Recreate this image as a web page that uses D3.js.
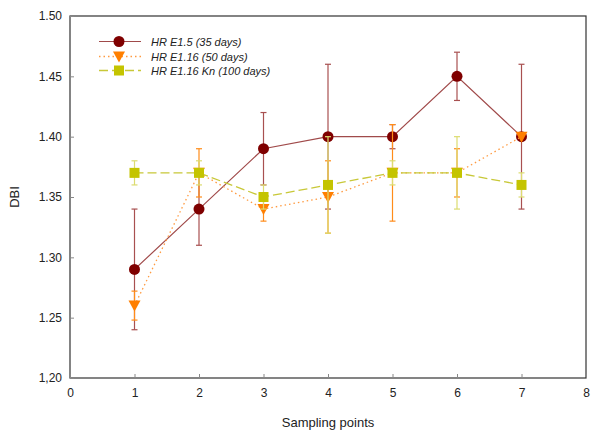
<!DOCTYPE html>
<html><head><meta charset="utf-8">
<script src="https://cdn.jsdelivr.net/npm/d3@7/dist/d3.min.js"></script>
<style>body{margin:0;background:#fff}svg{display:block}</style>
</head><body><svg id="c" width="600" height="435"></svg>
<script>
const samplingPoints = [1, 2, 3, 4, 5, 6, 7];
const seriesNames = ["HR E1.5 (35 days)", "HR E1.16 (50 days)", "HR E1.16 Kn (100 days)"];
const e15Values = [1.29, 1.34, 1.39, 1.40, 1.40, 1.45, 1.40];
const e15Errors = [0.05, 0.03, 0.03, 0.06, 0.01, 0.02, 0.06];
const e116Values = [1.26, 1.37, 1.34, 1.35, 1.37, 1.37, 1.40];
const e116Errors = [0.012, 0.02, 0.01, 0.03, 0.04, 0.02, 0.0];
const knValues = [1.37, 1.37, 1.35, 1.36, 1.37, 1.37, 1.36];
const knErrors = [0.01, 0.01, 0.01, 0.04, 0.01, 0.03, 0.01];
const xTicks = [0, 1, 2, 3, 4, 5, 6, 7, 8];
const yTicks = [1.20, 1.25, 1.30, 1.35, 1.40, 1.45, 1.50];
const yTickLabels = ["1,20", "1.25", "1.30", "1.35", "1.40", "1.45", "1.50"];

const svg = d3.select("#c");
const L = 70, R = 586, T = 16, B = 378;
const x = d3.scaleLinear().domain([0, 8]).range([L, R]);
const y = d3.scaleLinear().domain([1.20, 1.50]).range([B, T]);
const font = "'Liberation Sans', Arial, sans-serif";

// frame
svg.append("rect").attr("x", L).attr("y", T).attr("width", R - L).attr("height", B - T)
  .attr("fill", "none").attr("stroke", "#333").attr("stroke-width", 1.2);

// axes ticks (inward)
const xa = svg.append("g").attr("transform", `translate(0,${B})`)
  .call(d3.axisBottom(x).tickValues(xTicks).tickSizeInner(-4).tickSizeOuter(0).tickPadding(10).tickFormat(d3.format("d")));
const ya = svg.append("g").attr("transform", `translate(${L},0)`)
  .call(d3.axisLeft(y).tickValues(yTicks).tickSizeInner(-4).tickSizeOuter(0).tickPadding(8).tickFormat((d, i) => yTickLabels[i]));
[xa, ya].forEach(a => {
  a.select(".domain").remove();
  a.selectAll("line").attr("stroke", "#888");
  a.selectAll("text").attr("font-family", font).attr("font-size", 12).attr("fill", "#222");
});

svg.append("text").attr("x", (L + R) / 2).attr("y", 427).attr("text-anchor", "middle")
  .attr("font-family", font).attr("font-size", 13).attr("fill", "#222").text("Sampling points");
svg.append("text").attr("transform", "translate(19,197) rotate(-90)").attr("text-anchor", "middle")
  .attr("font-family", font).attr("font-size", 13).attr("fill", "#222").text("DBI");

const series = [
  {name: seriesNames[0], vals: e15Values, errs: e15Errors, marker: "circle", mcol: "#7f0000", lcol: "#a04a4a", ecol: "#a85050", dash: null, lw: 1.2},
  {name: seriesNames[1], vals: e116Values, errs: e116Errors, marker: "tri", mcol: "#ff7f00", lcol: "#ff9a40", ecol: "#ff8c1a", dash: "1.5,3", lw: 1.3},
  {name: seriesNames[2], vals: knValues, errs: knErrors, marker: "square", mcol: "#c4c400", lcol: "#c8c838", ecol: "#dcdc70", dash: "9,4", lw: 1.3}
];

function drawMarker(g, type, cx, cy, col) {
  if (type === "circle") g.append("circle").attr("cx", cx).attr("cy", cy).attr("r", 5.5).attr("fill", col);
  else if (type === "tri") g.append("path").attr("d", `M${cx - 6},${cy - 5}L${cx + 6},${cy - 5}L${cx},${cy + 6}Z`).attr("fill", col);
  else g.append("rect").attr("x", cx - 5).attr("y", cy - 5).attr("width", 10).attr("height", 10).attr("fill", col);
}

series.forEach(s => {
  const g = svg.append("g");
  samplingPoints.forEach((p, i) => {
    if (s.errs[i] <= 0) return;
    const cx = x(p), y1 = y(s.vals[i] + s.errs[i]), y2 = y(s.vals[i] - s.errs[i]);
    g.append("line").attr("x1", cx).attr("x2", cx).attr("y1", y1).attr("y2", y2).attr("stroke", s.ecol).attr("stroke-width", 1.2);
    [y1, y2].forEach(yy => g.append("line").attr("x1", cx - 3).attr("x2", cx + 3).attr("y1", yy).attr("y2", yy).attr("stroke", s.ecol).attr("stroke-width", 1.2));
  });
  const line = d3.line().x((d, i) => x(samplingPoints[i])).y(d => y(d));
  g.append("path").attr("d", line(s.vals)).attr("fill", "none").attr("stroke", s.lcol)
    .attr("stroke-width", s.lw).attr("stroke-dasharray", s.dash);
  samplingPoints.forEach((p, i) => drawMarker(g, s.marker, x(p), y(s.vals[i]), s.mcol));
});

// legend
const legRows = [41.5, 56.5, 70.5];
series.forEach((s, i) => {
  const g = svg.append("g");
  const ly = legRows[i];
  g.append("line").attr("x1", 99).attr("x2", 141).attr("y1", ly).attr("y2", ly)
    .attr("stroke", s.lcol).attr("stroke-width", s.lw).attr("stroke-dasharray", s.dash);
  drawMarker(g, s.marker, 119, ly, s.mcol);
  g.append("text").attr("x", 151).attr("y", ly + 4).attr("font-family", font).attr("font-size", 11)
    .attr("font-style", "italic").attr("fill", "#222").text(s.name);
});
</script></body></html>
